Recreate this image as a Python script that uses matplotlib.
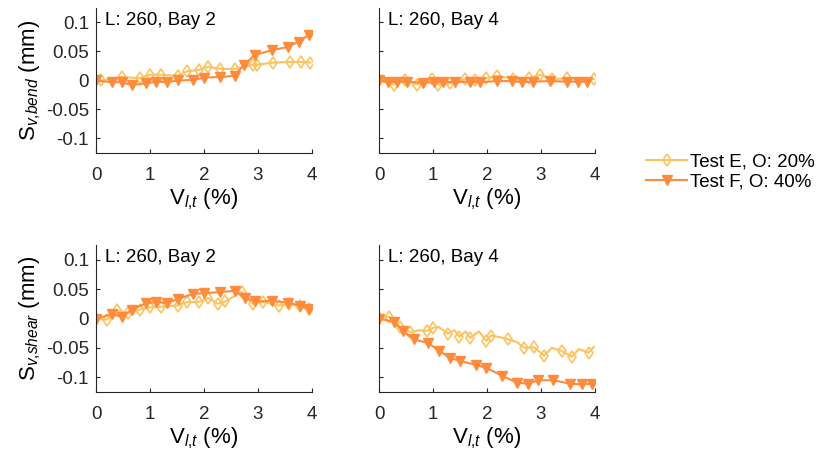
import matplotlib
matplotlib.use('Agg')
import matplotlib.pyplot as plt

plt.rcParams['font.family'] = ['Liberation Sans', 'DejaVu Sans']
plt.rcParams['mathtext.fontset'] = 'custom'
plt.rcParams['mathtext.rm'] = 'Liberation Sans'
plt.rcParams['mathtext.it'] = 'Liberation Sans:italic'
plt.rcParams['font.size'] = 13.5

col_e = '#FDC35E'
col_f = '#FF8B3D'

# bend, bay 2
bend2_ex = [0, 0.1, 0.48, 0.81, 1.0, 1.2, 1.51, 1.69, 1.9, 2.08, 2.3, 2.57, 2.9, 2.98, 3.28, 3.59, 3.79, 3.97]
bend2_ey = [0, 0.0, 0.006, 0.004, 0.010, 0.010, 0.008, 0.016, 0.018, 0.024, 0.020, 0.020, 0.027, 0.027, 0.031, 0.032, 0.032, 0.031]
bend2_fx = [0, 0.29, 0.48, 0.66, 0.93, 1.12, 1.32, 1.51, 1.80, 2.0, 2.3, 2.57, 2.74, 2.94, 3.25, 3.56, 3.75, 3.95]
bend2_fy = [0, -0.003, -0.003, -0.008, -0.005, -0.002, -0.003, 0.0, 0.001, 0.005, 0.006, 0.008, 0.027, 0.044, 0.052, 0.058, 0.067, 0.079]

# bend, bay 4
bend4_ex = [0, 0.27, 0.48, 0.70, 0.98, 1.1, 1.31, 1.59, 1.78, 1.99, 2.18, 2.49, 2.78, 2.98, 3.2, 3.48, 3.98]
bend4_ey = [0, -0.007, 0.001, -0.007, 0.002, -0.007, -0.005, 0.002, 0.0, 0.004, 0.008, 0.003, 0.004, 0.010, 0.002, 0.004, 0.002]
bend4_fx = [0, 0.17, 0.33, 0.52, 0.82, 1.01, 1.19, 1.41, 1.69, 1.87, 2.18, 2.46, 2.64, 2.86, 3.17, 3.48, 3.69, 3.86]
bend4_fy = [0, -0.002, -0.003, -0.002, -0.004, -0.003, -0.002, -0.003, -0.002, -0.003, -0.001, -0.001, -0.003, -0.002, -0.001, -0.002, -0.002, -0.002]

# shear, bay 2
shear2_ex = [0, 0.2, 0.38, 0.6, 0.81, 1.0, 1.2, 1.51, 1.69, 1.9, 2.08, 2.25, 2.39, 2.7, 2.9, 3.1, 3.38, 3.58, 3.78, 3.95]
shear2_ey = [0, -0.002, 0.014, 0.009, 0.015, 0.019, 0.020, 0.022, 0.028, 0.028, 0.035, 0.025, 0.029, 0.045, 0.025, 0.028, 0.022, 0.025, 0.021, 0.016]
shear2_fx = [0, 0.29, 0.48, 0.66, 0.93, 1.12, 1.32, 1.51, 1.80, 2.0, 2.30, 2.57, 2.76, 2.94, 3.25, 3.56, 3.77, 3.95]
shear2_fy = [0, 0.007, 0.003, 0.015, 0.026, 0.028, 0.026, 0.033, 0.042, 0.043, 0.045, 0.047, 0.035, 0.029, 0.030, 0.027, 0.022, 0.016]

# shear, bay 4
shear4_ex = [0, 0.19, 0.30, 0.39, 0.57, 0.75, 0.88, 1.0, 1.1, 1.28, 1.40, 1.49, 1.60, 1.69, 1.85, 1.99, 2.07,
             2.25, 2.38, 2.55, 2.69, 2.87, 3.06, 3.2, 3.38, 3.57, 3.7, 3.88, 3.98]
shear4_ey = [0.001, 0.003, -0.008, -0.014, -0.023, -0.020, -0.021, -0.016, -0.014, -0.026, -0.020, -0.031, -0.022,
             -0.033, -0.022, -0.038, -0.029, -0.032, -0.035, -0.040, -0.050, -0.049, -0.063, -0.050, -0.055, -0.065,
             -0.052, -0.058, -0.048]
shear4_emark = [0, 1, 3, 4, 6, 7, 9, 11, 13, 15, 16, 18, 20, 21, 22, 24, 25, 27]
shear4_fx = [0, 0.28, 0.45, 0.64, 0.91, 1.12, 1.31, 1.5, 1.80, 1.99, 2.27, 2.55, 2.75, 2.95, 3.23, 3.54, 3.75, 3.94]
shear4_fy = [0, -0.006, -0.022, -0.035, -0.042, -0.055, -0.067, -0.072, -0.079, -0.084, -0.097, -0.109, -0.111,
             -0.105, -0.105, -0.111, -0.112, -0.111]

panels = [
    ('L: 260, Bay 2', bend2_ex, bend2_ey, None, bend2_fx, bend2_fy),
    ('L: 260, Bay 4', bend4_ex, bend4_ey, None, bend4_fx, bend4_fy),
    ('L: 260, Bay 2', shear2_ex, shear2_ey, None, shear2_fx, shear2_fy),
    ('L: 260, Bay 4', shear4_ex, shear4_ey, shear4_emark, shear4_fx, shear4_fy),
]
positions = [
    [96/822, 1-153/459, 216/822, 145/459],
    [379/822, 1-153/459, 216/822, 145/459],
    [96/822, 1-392/459, 216/822, 147/459],
    [379/822, 1-392/459, 216/822, 147/459],
]
ylabels = [r'S$_{v{,}bend}$ (mm)', None, r'S$_{v{,}shear}$ (mm)', None]

fig = plt.figure(figsize=(8.22, 4.59), dpi=100)
ax_color = '#262626'
for i, (title, ex, ey, emark, fx, fy) in enumerate(panels):
    ax = fig.add_axes(positions[i])
    le, = ax.plot(ex, ey, color=col_e, lw=1.5, marker='d', ms=6, mfc='none', mec=col_e, mew=1.2,
                  markevery=emark, label='Test E, O: 20%')
    lf, = ax.plot(fx, fy, color=col_f, lw=1.5, marker='v', ms=7, mfc=col_f, mec=col_f,
                  label='Test F, O: 40%')
    ax.set_xlim(0, 4)
    ax.set_ylim(-0.125, 0.125)
    ax.set_xticks([0, 1, 2, 3, 4])
    ax.set_yticks([-0.1, -0.05, 0, 0.05, 0.1])
    ax.spines['top'].set_visible(False)
    ax.spines['right'].set_visible(False)
    for s in ['left', 'bottom']:
        ax.spines[s].set_color(ax_color)
        ax.spines[s].set_linewidth(0.8)
    ax.tick_params(direction='in', length=3, width=0.8, color=ax_color, labelcolor=ax_color)
    ax.tick_params(axis='x', pad=10)
    ax.tick_params(axis='y', pad=5)
    if ylabels[i] is None:
        ax.set_yticklabels([])
    else:
        ax.set_yticklabels(['-0.1', '-0.05', '0', '0.05', '0.1'])
        ax.set_ylabel(ylabels[i], labelpad=2, fontsize=16)
    ax.set_xlabel(r'V$_{l{,}t}$ (%)', labelpad=2, fontsize=16)
    ax.text(0.04, 0.97, title, transform=ax.transAxes, va='top', ha='left', color='black')

fig.legend([le, lf], ['Test E, O: 20%', 'Test F, O: 40%'], loc='center left',
           bbox_to_anchor=(646/822, 1-172/459), frameon=False, handlelength=2.2,
           handletextpad=0.15, labelspacing=0.2, borderpad=0, borderaxespad=0, fontsize=13.5)

fig.savefig('out.png', dpi=100)
